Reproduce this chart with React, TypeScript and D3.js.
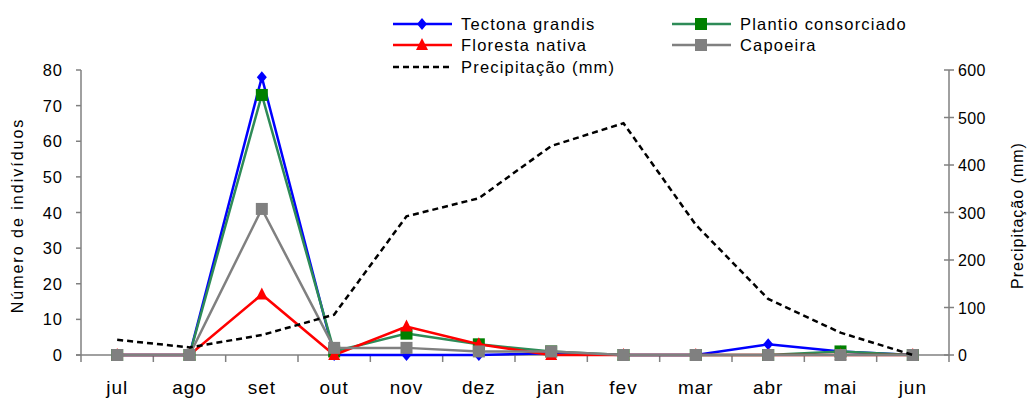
import React from "react";
import * as d3 from "d3";

const months = ["jul", "ago", "set", "out", "nov", "dez", "jan", "fev", "mar", "abr", "mai", "jun"];
const tectona = [0, 0, 78, 0, 0, 0, 0.5, 0, 0, 3, 1, 0];
const plantio = [0, 0, 73, 1, 6, 3, 1, 0, 0, 0, 1, 0];
const floresta = [0, 0, 17, 0, 8, 3, 0, 0, 0, 0, 0, 0];
const capoeira = [0, 0, 41, 2, 2, 1, 1, 0, 0, 0, 0, 0];
const precip = [32, 16, 42, 85, 292, 330, 440, 488, 274, 118, 47, 0];
const leftTicks = [0, 10, 20, 30, 40, 50, 60, 70, 80];
const rightTicks = [0, 100, 200, 300, 400, 500, 600];

const W = 1032;
const H = 401;
const m = { left: 81, right: 949, top: 70, bottom: 355 };
const font = "'Liberation Sans', Arial, sans-serif";

type Series = { name: string; values: number[]; line: string; fill: string; marker: string };

const series: Series[] = [
  { name: "Tectona grandis", values: tectona, line: "#0000ff", fill: "#0000ff", marker: "diamond" },
  { name: "Plantio consorciado", values: plantio, line: "#2e8b57", fill: "#008000", marker: "square" },
  { name: "Floresta nativa", values: floresta, line: "#ff0000", fill: "#ff0000", marker: "triangle" },
  { name: "Capoeira", values: capoeira, line: "#808080", fill: "#808080", marker: "square" },
];

function Marker({ kind, x, y, fill }: { kind: string; x: number; y: number; fill: string }) {
  if (kind === "diamond") {
    return <path d={`M${x},${y - 6}L${x + 5},${y}L${x},${y + 6}L${x - 5},${y}Z`} fill={fill} />;
  }
  if (kind === "triangle") {
    return <path d={`M${x},${y - 7}L${x + 6},${y + 5}L${x - 6},${y + 5}Z`} fill={fill} />;
  }
  return <rect x={x - 6} y={y - 6} width={12} height={12} fill={fill} />;
}

export default function App() {
  const x = d3.scaleBand().domain(months).range([m.left, m.right]);
  const cx = (i: number) => (x(months[i]) as number) + x.bandwidth() / 2;
  const yL = d3.scaleLinear().domain([0, 80]).range([m.bottom, m.top]);
  const yR = d3.scaleLinear().domain([0, 600]).range([m.bottom, m.top]);

  const lineL = d3.line<number>().x((_, i) => cx(i)).y((d) => yL(d));
  const lineR = d3.line<number>().x((_, i) => cx(i)).y((d) => yR(d));

  const boundaries = d3.range(months.length + 1).map((i) => m.left + i * x.bandwidth());

  const legend = [
    { label: "Tectona grandis", x: 393, y: 24, s: series[0] },
    { label: "Plantio consorciado", x: 672, y: 24, s: series[1] },
    { label: "Floresta nativa", x: 393, y: 45, s: series[2] },
    { label: "Capoeira", x: 672, y: 45, s: series[3] },
  ];

  return (
    <svg width={W} height={H} style={{ position: "absolute", left: 0, top: 0, background: "#fff" }} fontFamily={font}>
      {/* left axis */}
      <line x1={m.left} x2={m.left} y1={m.top} y2={m.bottom} stroke="#808080" strokeWidth={1.5} />
      {leftTicks.map((t) => (
        <g key={"l" + t}>
          <line x1={m.left - 5} x2={m.left} y1={yL(t)} y2={yL(t)} stroke="#808080" strokeWidth={1.5} />
          <text x={m.left - 18} y={yL(t) + 6} textAnchor="end" fontSize={16.5} letterSpacing={1} fill="#000">{t}</text>
        </g>
      ))}
      {/* right axis */}
      <line x1={m.right} x2={m.right} y1={m.top} y2={m.bottom} stroke="#808080" strokeWidth={1.5} />
      {rightTicks.map((t) => (
        <g key={"r" + t}>
          <line x1={m.right - 5} x2={m.right + 5} y1={yR(t)} y2={yR(t)} stroke="#808080" strokeWidth={1.5} />
          <text x={m.right + 9} y={yR(t) + 6} textAnchor="start" fontSize={16} letterSpacing={0.3} fill="#000">{t}</text>
        </g>
      ))}
      {/* x axis */}
      <line x1={m.left - 5} x2={m.right} y1={m.bottom} y2={m.bottom} stroke="#808080" strokeWidth={1.5} />
      {boundaries.map((b, i) => (
        <line key={"b" + i} x1={b} x2={b} y1={m.bottom} y2={m.bottom + 7} stroke="#808080" strokeWidth={1.5} />
      ))}
      {months.map((mo, i) => (
        <text key={mo} x={cx(i)} y={394} textAnchor="middle" fontSize={19} letterSpacing={1} fill="#000">{mo}</text>
      ))}
      {/* axis titles */}
      <text transform={`translate(23,${(m.top + m.bottom) / 2 + 3}) rotate(-90)`} textAnchor="middle" fontSize={16} letterSpacing={2} fill="#000">
        Número de indivíduos
      </text>
      <text transform={`translate(1023,${(m.top + m.bottom) / 2 + 3}) rotate(-90)`} textAnchor="middle" fontSize={16} letterSpacing={1} fill="#000">
        Precipitação (mm)
      </text>
      {/* series */}
      {series.map((s) => (
        <g key={s.name}>
          <path d={lineL(s.values) as string} fill="none" stroke={s.line} strokeWidth={2.5} />
          {s.values.map((v, i) => (
            <Marker key={i} kind={s.marker} x={cx(i)} y={yL(v)} fill={s.fill} />
          ))}
        </g>
      ))}
      <path d={lineR(precip) as string} fill="none" stroke="#000" strokeWidth={2.5} strokeDasharray="6,4" />
      {/* legend */}
      {legend.map((l) => (
        <g key={l.label}>
          <line x1={l.x} x2={l.x + 59} y1={l.y} y2={l.y} stroke={l.s.line} strokeWidth={2.5} />
          <Marker kind={l.s.marker} x={l.x + 29} y={l.y} fill={l.s.fill} />
          <text x={l.x + 68} y={l.y + 6} fontSize={16.5} letterSpacing={1.2} fill="#000">{l.label}</text>
        </g>
      ))}
      <line x1={393} x2={452} y1={67} y2={67} stroke="#000" strokeWidth={2.5} strokeDasharray="6,4" />
      <text x={461} y={73} fontSize={16.5} letterSpacing={1.2} fill="#000">Precipitação (mm)</text>
    </svg>
  );
}
